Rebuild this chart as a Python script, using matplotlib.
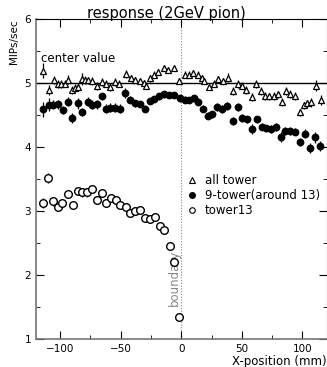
import matplotlib
matplotlib.use("Agg")
import matplotlib.pyplot as plt
from matplotlib.lines import Line2D
import numpy as np

plt.rcParams['font.family'] = ['DejaVu Sans']

# all tower (open triangles)
x_all = [-114.3, -109.6, -105.5, -102.0, -99.0, -96.4, -93.6, -90.0, -87.6, -84.9,
         -81.8, -79.6, -77.1, -74.1, -70.0, -65.8, -62.5, -59.2, -54.5, -51.2,
         -45.7, -41.9, -38.3, -34.5, -31.2, -29.2, -25.6, -22.6, -19.0, -14.6,
         -10.7, -6.0, -1.7, 2.7, 6.0, 9.9, 13.5, 17.1, 19.0, 22.6,
         26.7, 30.0, 34.4, 38.6, 42.7, 46.5, 49.8, 53.7, 58.1, 62.0,
         65.9, 69.2, 72.5, 76.3, 79.6, 83.2, 86.8, 90.1, 93.6, 98.1,
         101.1, 103.9, 107.4, 111.3, 115.5]
y_all = [5.19, 4.89, 5.05, 4.98, 4.98, 4.99, 5.05, 4.89, 4.92, 4.94,
         5.06, 5.05, 5.04, 5.03, 4.95, 5.02, 4.99, 4.94, 5.02, 4.99,
         5.14, 5.08, 5.05, 5.03, 5.00, 4.96, 5.07, 5.13, 5.17, 5.23,
         5.20, 5.23, 5.03, 5.13, 5.13, 5.16, 5.13, 5.08, 5.03, 4.94,
         4.99, 5.06, 5.03, 5.08, 4.87, 4.98, 4.96, 4.89, 4.78, 4.98,
         4.87, 4.80, 4.79, 4.80, 4.82, 4.70, 4.87, 4.83, 4.80, 4.54,
         4.65, 4.68, 4.70, 4.96, 4.73]
e_all = [0.12, 0.08, 0.06, 0.06, 0.06, 0.06, 0.07, 0.06, 0.06, 0.06,
         0.09, 0.06, 0.06, 0.06, 0.06, 0.06, 0.06, 0.06, 0.06, 0.06,
         0.06, 0.05, 0.05, 0.05, 0.05, 0.05, 0.05, 0.05, 0.05, 0.05,
         0.05, 0.05, 0.05, 0.05, 0.05, 0.05, 0.05, 0.05, 0.05, 0.05,
         0.06, 0.05, 0.05, 0.07, 0.06, 0.06, 0.06, 0.06, 0.06, 0.06,
         0.06, 0.06, 0.06, 0.06, 0.06, 0.06, 0.06, 0.06, 0.06, 0.06,
         0.06, 0.06, 0.07, 0.08, 0.08]

# 9-tower around 13 (filled circles)
x_9t = [-114.3, -109.6, -106.0, -101.8, -97.3, -93.6, -90.0, -85.3, -81.8, -77.4,
        -74.0, -70.0, -65.6, -62.3, -58.5, -54.7, -50.9, -46.3, -42.4, -38.3,
        -34.2, -30.0, -25.9, -22.3, -18.5, -14.3, -10.2, -6.1, -1.1, 3.0,
        6.6, 10.5, 14.0, 18.2, 22.0, 25.6, 29.8, 33.9, 38.0, 42.4,
        46.6, 50.4, 54.3, 58.4, 62.5, 66.4, 70.0, 74.1, 77.9, 82.4,
        86.0, 90.1, 94.2, 98.3, 101.9, 106.0, 110.2, 114.3]
y_9t = [4.59, 4.66, 4.66, 4.67, 4.58, 4.71, 4.45, 4.68, 4.55, 4.71,
        4.66, 4.67, 4.79, 4.60, 4.61, 4.61, 4.60, 4.84, 4.74, 4.68,
        4.67, 4.60, 4.72, 4.75, 4.79, 4.82, 4.81, 4.81, 4.76, 4.74,
        4.73, 4.76, 4.71, 4.60, 4.49, 4.51, 4.63, 4.59, 4.64, 4.41,
        4.62, 4.45, 4.43, 4.28, 4.43, 4.32, 4.29, 4.28, 4.31, 4.16,
        4.25, 4.25, 4.24, 4.08, 4.21, 3.99, 4.15, 4.01]
e_9t = [0.12, 0.10, 0.07, 0.07, 0.06, 0.07, 0.08, 0.09, 0.06, 0.07,
        0.07, 0.07, 0.06, 0.07, 0.07, 0.07, 0.07, 0.08, 0.06, 0.06,
        0.05, 0.05, 0.05, 0.05, 0.05, 0.05, 0.05, 0.05, 0.05, 0.05,
        0.05, 0.05, 0.05, 0.05, 0.05, 0.05, 0.06, 0.06, 0.06, 0.06,
        0.06, 0.06, 0.06, 0.08, 0.06, 0.06, 0.06, 0.06, 0.06, 0.08,
        0.06, 0.06, 0.06, 0.06, 0.07, 0.08, 0.08, 0.08]

# tower13 (open circles)
x_t13 = [-113.8, -109.7, -106.0, -102.2, -98.1, -93.6, -89.5, -85.7, -81.6, -77.7,
         -73.8, -69.7, -65.8, -62.0, -57.9, -54.0, -50.4, -46.0, -42.1, -38.0,
         -33.9, -30.0, -25.6, -22.1, -17.9, -14.0, -9.7, -5.8, -1.7]
y_t13 = [3.13, 3.51, 3.15, 3.07, 3.12, 3.27, 3.09, 3.31, 3.29, 3.29,
         3.34, 3.17, 3.28, 3.12, 3.21, 3.17, 3.09, 3.07, 2.97, 3.00,
         3.02, 2.89, 2.87, 2.90, 2.77, 2.70, 2.45, 2.21, 1.35]
e_t13 = [0.08, 0.08, 0.07, 0.07, 0.07, 0.06, 0.06, 0.06, 0.07, 0.07,
         0.06, 0.06, 0.06, 0.06, 0.06, 0.06, 0.06, 0.06, 0.06, 0.06,
         0.06, 0.06, 0.06, 0.06, 0.06, 0.06, 0.06, 0.06, 0.06]

fig = plt.figure(figsize=(3.27, 3.67), dpi=100)
ax = fig.add_axes([0.110, 0.0763, 0.889, 0.872])

ax.axhline(5.0, color='black', lw=1.0, zorder=1)
ax.axvline(0.0, color='#888888', lw=0.8, ls=(0, (1, 1.5)), zorder=1)

ax.errorbar(x_all, y_all, yerr=e_all, fmt='^', ms=5, mfc='white', mec='black',
            mew=0.9, ecolor='black', elinewidth=0.9, capsize=0, zorder=3)
ax.errorbar(x_9t, y_9t, yerr=e_9t, fmt='o', ms=4.6, mfc='black', mec='black',
            ecolor='black', elinewidth=0.9, capsize=0, zorder=3)
ax.errorbar(x_t13, y_t13, yerr=e_t13, fmt='o', ms=5.5, mfc='white', mec='black',
            mew=1.0, ecolor='black', elinewidth=0.9, capsize=0, zorder=3)

ax.text(-116, 5.39, 'center value', fontsize=8.5, ha='left', va='center')
ax.text(-5.5, 1.95, 'boundary', fontsize=8.5, color='#888888', rotation=90,
        ha='center', va='center')

handles = [Line2D([], [], ls='none', marker='^', ms=4, mfc='white', mec='black', mew=0.8),
           Line2D([], [], ls='none', marker='o', ms=4, mfc='black', mec='black'),
           Line2D([], [], ls='none', marker='o', ms=4, mfc='white', mec='black', mew=0.8)]
ax.legend(handles, ['all tower', '9-tower(around 13)', 'tower13'],
          loc='upper left', bbox_to_anchor=(0.5, 0.53), frameon=False,
          fontsize=8.5, handlelength=1.0, handletextpad=0.6, labelspacing=0.18,
          borderaxespad=0.0)

ax.set_xlim(-120, 120)
ax.set_ylim(1, 6)
ax.set_xticks([-100, -50, 0, 50, 100])
ax.set_xticks(np.arange(-100, 101, 25), minor=True)
ax.set_yticks([1, 2, 3, 4, 5, 6])
ax.set_yticks(np.arange(1, 6.01, 0.5), minor=True)
ax.tick_params(which='both', direction='in', top=True, right=True, labelsize=7.5)
ax.tick_params(which='major', length=6)
ax.tick_params(which='minor', length=3)

fig.text(0.51, 0.985, 'response (2GeV pion)', fontsize=10.5, ha='center', va='top')
ax.set_xlabel('X-position (mm)', fontsize=8.5, loc='right', labelpad=1)
ax.set_ylabel('MIPs/sec', fontsize=7.5, loc='top', labelpad=4)

for s in ['left', 'bottom']:
    ax.spines[s].set_color('#777777')
    ax.spines[s].set_linewidth(1.2)

fig.savefig('out.png', dpi=100)
